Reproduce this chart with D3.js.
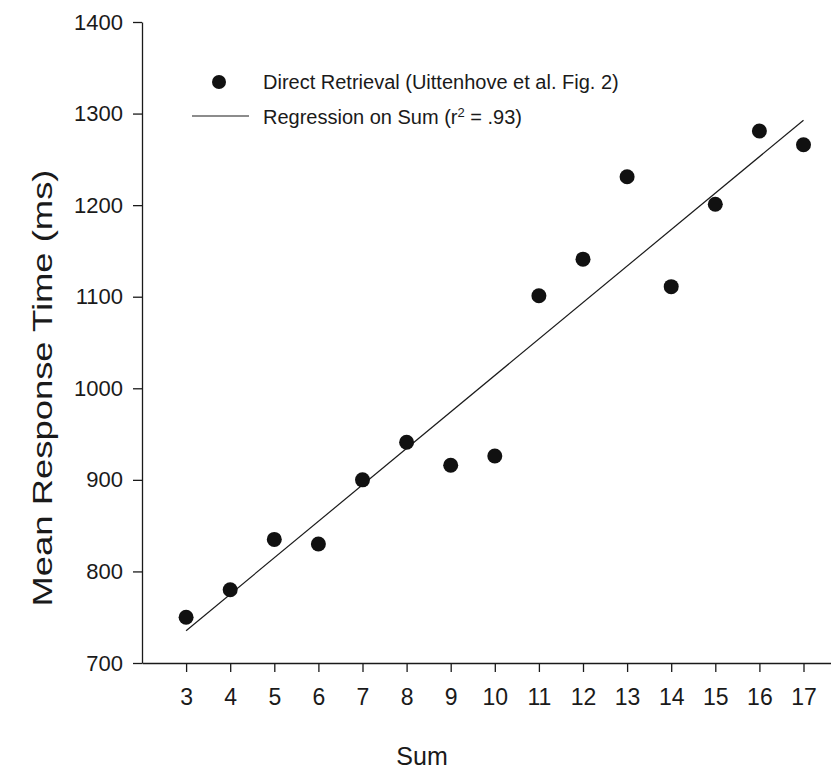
<!DOCTYPE html>
<html>
<head>
<meta charset="utf-8">
<script src="https://cdn.jsdelivr.net/npm/d3@7"></script>
<style>
  body { margin: 0; background: #fff; }
  svg text { font-family: "Liberation Sans", Arial, sans-serif; fill: #1a1a1a; }
</style>
</head>
<body>
<div id="chart"></div>
<script>
// data
const sums = [3, 4, 5, 6, 7, 8, 9, 10, 11, 12, 13, 14, 15, 16, 17]
const meanRT = [750, 780, 835, 830, 900, 941, 916, 926, 1101, 1141, 1231, 1111, 1201, 1281, 1266]
const yTicks = [700, 800, 900, 1000, 1100, 1200, 1300, 1400]
const xTicks = [3, 4, 5, 6, 7, 8, 9, 10, 11, 12, 13, 14, 15, 16, 17]
const legendLabels = ['Direct Retrieval (Uittenhove et al. Fig. 2)', 'Regression on Sum (r', ' = .93)']

const w = 831
const h = 770

const svg = d3.select('#chart')
    .append('svg')
    .attr('width', w)
    .attr('height', h)

// scales
const xScale = d3.scaleLinear()
    .domain([2, 18])
    .range([142, 847.6])

const yScale = d3.scaleLinear()
    .domain([700, 1400])
    .range([663, 22])

// least squares fit on the points
const mx = d3.mean(sums)
const my = d3.mean(meanRT)
const slope = d3.sum(sums, (x, i) => (x - mx) * (meanRT[i] - my)) / d3.sum(sums, x => (x - mx) ** 2)
const intercept = my - slope * mx

// axes
const xAxis = d3.axisBottom(xScale).tickValues(xTicks).tickSize(9).tickPadding(17).tickSizeOuter(0)
const yAxis = d3.axisLeft(yScale).tickValues(yTicks).tickSize(9).tickPadding(10)
    .tickSizeOuter(0).tickFormat(d3.format('d'))

const gx = svg.append('g')
    .attr('transform', 'translate(0,663)')
    .call(xAxis)
gx.selectAll('text').style('font-size', '23px').attr('fill', '#1a1a1a')

const gy = svg.append('g')
    .attr('transform', 'translate(142,0)')
    .call(yAxis)
gy.selectAll('text').style('font-size', '22px').attr('fill', '#1a1a1a')

svg.selectAll('.domain, .tick line').attr('stroke', '#1a1a1a').attr('stroke-width', 1.3)

// regression line
svg.append('line')
    .attr('x1', xScale(3))
    .attr('y1', yScale(intercept + slope * 3))
    .attr('x2', xScale(17))
    .attr('y2', yScale(intercept + slope * 17))
    .attr('stroke', '#1a1a1a')
    .attr('stroke-width', 1.2)

// points
svg.selectAll('circle.pt')
    .data(sums)
    .enter()
    .append('circle')
    .attr('class', 'pt')
    .attr('cx', d => xScale(d))
    .attr('cy', (d, i) => yScale(meanRT[i]))
    .attr('r', 7.5)
    .attr('fill', '#111')

// legend
svg.append('circle')
    .attr('cx', 219)
    .attr('cy', 82)
    .attr('r', 7)
    .attr('fill', '#111')
svg.append('text')
    .attr('x', 263)
    .attr('y', 89)
    .style('font-size', '20px')
    .text(legendLabels[0])

svg.append('line')
    .attr('x1', 192).attr('x2', 249)
    .attr('y1', 116).attr('y2', 116)
    .attr('stroke', '#1a1a1a')
    .attr('stroke-width', 1.2)
const reg = svg.append('text')
    .attr('x', 263)
    .attr('y', 124)
    .style('font-size', '20px')
reg.append('tspan').text(legendLabels[1])
reg.append('tspan').attr('dy', -7).style('font-size', '13px').text('2')
reg.append('tspan').attr('dy', 7).text(legendLabels[2])

// axis titles (the y title is drawn stretched along its length, as in the figure)
svg.append('text')
    .attr('transform', 'translate(52,388) rotate(-90) scale(1.3,1)')
    .attr('text-anchor', 'middle')
    .style('font-size', '28px')
    .text('Mean Response Time (ms)')

svg.append('text')
    .attr('x', 422)
    .attr('y', 765)
    .attr('text-anchor', 'middle')
    .style('font-size', '25px')
    .text('Sum')
</script>
</body>
</html>
